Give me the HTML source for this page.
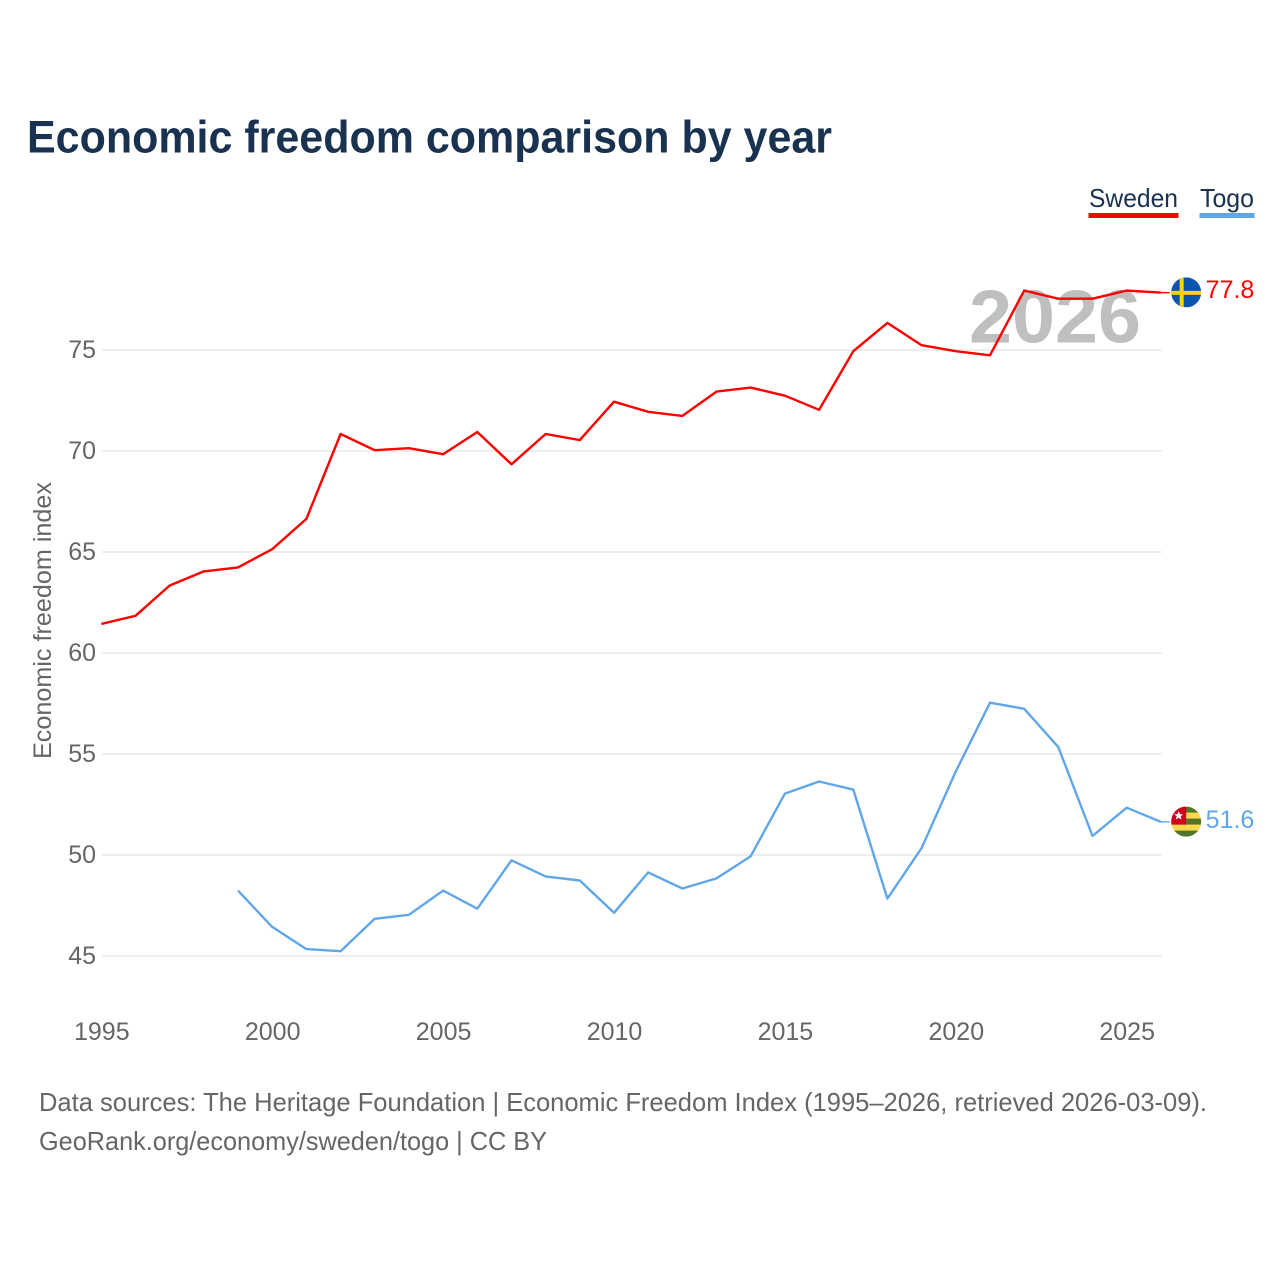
<!DOCTYPE html>
<html lang="en">
<head>
<meta charset="utf-8">
<title>Economic freedom comparison by year</title>
<style>
html,body{margin:0;padding:0;background:#fff;width:1280px;height:1280px;overflow:hidden}
svg{display:block}
text{font-family:"Liberation Sans",sans-serif}
</style>
</head>
<body>
<svg id="chart" xmlns="http://www.w3.org/2000/svg" width="1280" height="1280" viewBox="0 0 1280 1280">
  <defs>
    <clipPath id="flag-clip"><circle cx="0" cy="0" r="15"/></clipPath>
  </defs>
  <text x="27" y="152.5" font-size="45" font-weight="700" fill="#18324f" textLength="805" lengthAdjust="spacingAndGlyphs">Economic freedom comparison by year</text>

  <g>
    <g>
      <text x="1089" y="207" font-size="26" fill="#18324f" textLength="89" lengthAdjust="spacingAndGlyphs">Sweden</text>
      <rect x="1088.5" y="213" width="90" height="5" fill="#ff0000"/>
    </g>
    <g>
      <text x="1200" y="207" font-size="26" fill="#18324f" textLength="54" lengthAdjust="spacingAndGlyphs">Togo</text>
      <rect x="1199.5" y="213" width="55" height="5" fill="#62a6ea"/>
    </g>
  </g>

  <g id="grid"></g>
  <g id="y-ticks"></g>
  <g id="x-ticks"></g>

  <text transform="translate(51,759) rotate(-90)" x="0" y="0" font-size="25" fill="#666666" textLength="277" lengthAdjust="spacingAndGlyphs">Economic freedom index</text>

  <text x="969" y="342.5" font-size="75" font-weight="700" fill="#bfbfbf" textLength="172" lengthAdjust="spacingAndGlyphs">2026</text>

  <g id="series"></g>

  <g id="flag-sweden">
    <g clip-path="url(#flag-clip)">
      <rect x="-15" y="-15" width="30" height="30" fill="#0b55b0"/>
      <rect x="-6.5" y="-15" width="4" height="30" fill="#fcd116"/>
      <rect x="-15" y="-1.5" width="30" height="4" fill="#fcd116"/>
    </g>
  </g>
  <g id="flag-togo">
    <g clip-path="url(#flag-clip)">
      <rect x="-15" y="-15" width="30" height="30" fill="#ffd84f"/>
      <rect x="-15" y="-15" width="30" height="6" fill="#53752a"/>
      <rect x="-15" y="-3" width="30" height="6" fill="#53752a"/>
      <rect x="-15" y="9" width="30" height="6" fill="#53752a"/>
      <rect x="-15" y="-15" width="15" height="18" fill="#d0021b"/>
      <polygon points="-7.5,-10.5 -6.2,-7.3 -3,-7.3 -5.5,-5.2 -4.6,-2 -7.5,-3.8 -10.4,-2 -9.5,-5.2 -12,-7.3 -8.8,-7.3" fill="#ffffff"/>
    </g>
  </g>
  <g id="end-labels"></g>

  <text x="39" y="1111" font-size="26" fill="#666666" textLength="1168" lengthAdjust="spacingAndGlyphs">Data sources: The Heritage Foundation | Economic Freedom Index (1995–2026, retrieved 2026-03-09).</text>
  <text x="39" y="1150" font-size="26" fill="#666666" textLength="508" lengthAdjust="spacingAndGlyphs">GeoRank.org/economy/sweden/togo | CC BY</text>
</svg>
<script>
const years = [1995,1996,1997,1998,1999,2000,2001,2002,2003,2004,2005,2006,2007,2008,2009,2010,2011,2012,2013,2014,2015,2016,2017,2018,2019,2020,2021,2022,2023,2024,2025,2026];
const swedenValues = [61.4,61.8,63.3,64.0,64.2,65.1,66.6,70.8,70.0,70.1,69.8,70.9,69.3,70.8,70.5,72.4,71.9,71.7,72.9,73.1,72.7,72.0,74.9,76.3,75.2,74.9,74.7,77.9,77.5,77.5,77.9,77.8];
const togoValues = [null,null,null,null,48.2,46.4,45.3,45.2,46.8,47.0,48.2,47.3,49.7,48.9,48.7,47.1,49.1,48.3,48.8,49.9,53.0,53.6,53.2,47.8,50.3,54.1,57.5,57.2,55.3,50.9,52.3,51.6];
const yTickValues = [45,50,55,60,65,70,75];
const xTickValues = [1995,2000,2005,2010,2015,2020,2025];

const NS = 'http://www.w3.org/2000/svg';
function xScale(year){ return 101.3 + (year - 1995) * 34.18; }
function yScale(value){ return 955.2 - (value - 45) * 20.2; }
function make(tag, parent){
  const el = document.createElementNS(NS, tag);
  parent.appendChild(el);
  return el;
}

const grid = document.getElementById('grid');
const yTicks = document.getElementById('y-ticks');
const xTicks = document.getElementById('x-ticks');

yTickValues.forEach(function(v){
  const line = make('line', grid);
  
  
  line.setAttribute('x1', xScale(1995) + 0.7);
  line.setAttribute('x2', xScale(2026) + 0.7);
  line.setAttribute('y1', yScale(v) + 0.8);
  line.setAttribute('y2', yScale(v) + 0.8);
  line.setAttribute('stroke', '#eeeeee');
  line.setAttribute('stroke-width', '2');
  const t = make('text', yTicks);
  
  
  t.setAttribute('x', 96);
  t.setAttribute('y', yScale(v) + 8.8);
  t.setAttribute('text-anchor', 'end');
  t.setAttribute('font-size', '25');
  t.setAttribute('fill', '#666666');
  t.textContent = v;
});

xTickValues.forEach(function(y){
  const t = make('text', xTicks);
  
  
  t.setAttribute('x', xScale(y) + 0.5);
  t.setAttribute('y', 1040);
  t.setAttribute('text-anchor', 'middle');
  t.setAttribute('font-size', '25');
  t.setAttribute('fill', '#666666');
  t.textContent = y;
});

const seriesGroup = document.getElementById('series');
const labelGroup = document.getElementById('end-labels');

function drawSeries(values, color, flagId, labelOffset){
  let d = '';
  values.forEach(function(v, i){
    if (v === null) return;
    d += (d === '' ? 'M' : 'L') + xScale(years[i]).toFixed(1) + ' ' + yScale(v).toFixed(1);
  });
  const path = make('path', seriesGroup);
  
  
  path.setAttribute('d', d);
  path.setAttribute('fill', 'none');
  path.setAttribute('stroke', color);
  path.setAttribute('stroke-width', '2.4');
  path.setAttribute('stroke-linejoin', 'round');

  const last = values[values.length - 1];
  const lastX = xScale(years[years.length - 1]);
  const lastY = yScale(last);

  const stub = make('line', seriesGroup);
  
  
  stub.setAttribute('x1', lastX);
  stub.setAttribute('x2', lastX + 8.8);
  stub.setAttribute('y1', lastY);
  stub.setAttribute('y2', lastY);
  stub.setAttribute('stroke', color);
  stub.setAttribute('stroke-width', '1.4');

  document.getElementById(flagId).setAttribute('transform', 'translate(' + (lastX + 25.3) + ',' + (lastY - 0.3) + ')');

  const label = make('text', labelGroup);
  
  
  label.setAttribute('x', lastX + 44.8);
  label.setAttribute('y', lastY + labelOffset);
  label.setAttribute('font-size', '25');
  label.setAttribute('fill', color);
  label.textContent = last.toFixed(1);
}

drawSeries(swedenValues, '#ff0000', 'flag-sweden', 5.5);
drawSeries(togoValues, '#62a6ea', 'flag-togo', 6);
</script>
</body>
</html>
